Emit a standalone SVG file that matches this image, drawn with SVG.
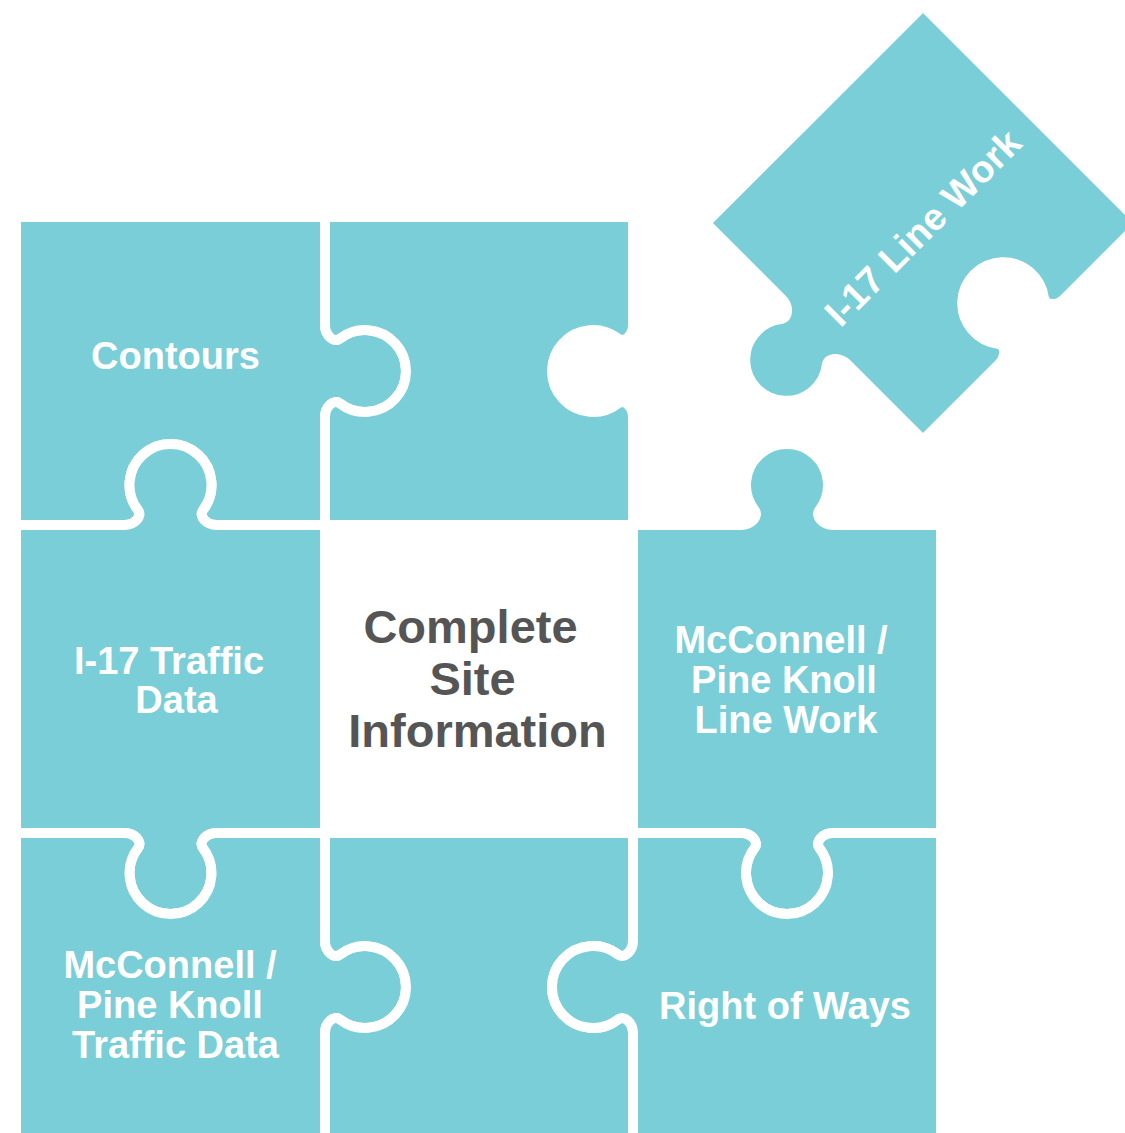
<svg xmlns="http://www.w3.org/2000/svg" width="1125" height="1133" viewBox="0 0 1125 1133">
  <style>
    .piece { fill: #79CED7; stroke: #ffffff; stroke-width: 10; stroke-linejoin: miter; }
    .lbl { font-family: "Liberation Sans", Arial, sans-serif; font-weight: bold; font-size: 38px; fill: #ffffff; text-anchor: middle; }
    .hub { font-family: "Liberation Sans", Arial, sans-serif; font-weight: bold; font-size: 47px; fill: #555555; text-anchor: middle; }
  </style>

  <rect x="0" y="0" width="1125" height="1133" fill="#ffffff"/>

  <!-- Puzzle grid: nominal cut lines at x = 16, 325, 633, 941 and y = 217, 525, 833, 1140.
       The 10px white stroke opens a gap along every cut. -->

  <g id="contours">
    <path class="piece" d="M16,217 L325,217 L325,325 C325,335 333.7,343.4 340,338.5 A41,41 0 1 1 340,403.5 C333.7,398.6 325,407 325,417 L325,525 L216.5,525 C206.5,525 198.1,516.3 203,510 A41,41 0 1 0 138,510 C142.9,516.3 134.5,525 124.5,525 L16,525 Z"/>
    <text class="lbl" x="175.5" y="369">Contours</text>
  </g>

  <g id="top-middle">
    <path class="piece" d="M325,217 L633,217 L633,325 C633,335 624.3,343.4 618,338.5 A41,41 0 1 0 618,403.5 C624.3,398.6 633,407 633,417 L633,525 L325,525 L325,417 C325,407 333.7,398.6 340,403.5 A41,41 0 1 0 340,338.5 C333.7,343.4 325,335 325,325 Z"/>
  </g>

  <g id="i17-traffic-data">
    <path class="piece" d="M16,525 L124.5,525 C134.5,525 142.9,516.3 138,510 A41,41 0 1 1 203,510 C198.1,516.3 206.5,525 216.5,525 L325,525 L325,833 L216.5,833 C206.5,833 198.1,841.7 203,848 A41,41 0 1 1 138,848 C142.9,841.7 134.5,833 124.5,833 L16,833 Z"/>
    <text class="lbl" x="169" y="674">I-17 Traffic</text>
    <text class="lbl" x="176.5" y="713">Data</text>
  </g>

  <g id="complete-site-information">
    <text class="hub" x="470.5" y="643">Complete</text>
    <text class="hub" x="472.5" y="695">Site</text>
    <text class="hub" x="477.5" y="747">Information</text>
  </g>

  <g id="mcconnell-line-work">
    <path class="piece" d="M633,525 L741,525 C751,525 759.4,516.3 754.5,510 A41,41 0 1 1 819.5,510 C814.6,516.3 823,525 833,525 L941,525 L941,833 L833,833 C823,833 814.6,841.7 819.5,848 A41,41 0 1 1 754.5,848 C759.4,841.7 751,833 741,833 L633,833 Z"/>
    <text class="lbl" x="781" y="653">McConnell /</text>
    <text class="lbl" x="784" y="693">Pine Knoll</text>
    <text class="lbl" x="786" y="733">Line Work</text>
  </g>

  <g id="mcconnell-traffic-data">
    <path class="piece" d="M16,833 L124.5,833 C134.5,833 142.9,841.7 138,848 A41,41 0 1 0 203,848 C198.1,841.7 206.5,833 216.5,833 L325,833 L325,941 C325,951 333.7,959.4 340,954.5 A41,41 0 1 1 340,1019.5 C333.7,1014.6 325,1023 325,1033 L325,1140 L16,1140 Z"/>
    <text class="lbl" x="170" y="978">McConnell /</text>
    <text class="lbl" x="170" y="1018">Pine Knoll</text>
    <text class="lbl" x="175.5" y="1058">Traffic Data</text>
  </g>

  <g id="bottom-middle">
    <path class="piece" d="M325,833 L633,833 L633,941 C633,951 624.3,959.4 618,954.5 A41,41 0 1 0 618,1019.5 C624.3,1014.6 633,1023 633,1033 L633,1140 L325,1140 L325,1033 C325,1023 333.7,1014.6 340,1019.5 A41,41 0 1 0 340,954.5 C333.7,959.4 325,951 325,941 Z"/>
  </g>

  <g id="right-of-ways">
    <path class="piece" d="M633,833 L741,833 C751,833 759.4,841.7 754.5,848 A41,41 0 1 0 819.5,848 C814.6,841.7 823,833 833,833 L941,833 L941,1140 L633,1140 L633,1033 C633,1023 624.3,1014.6 618,1019.5 A41,41 0 1 1 618,954.5 C624.3,959.4 633,951 633,941 Z"/>
    <text class="lbl" x="785" y="1019">Right of Ways</text>
  </g>

  <!-- Loose piece, turned 45 degrees about its centre -->
  <g id="i17-line-work">
    <path class="piece" transform="translate(923,223) rotate(45)" d="M-153.5,-153.5 L153.5,-153.5 L153.5,-46 C153.5,-36 144.8,-27.6 138.5,-32.5 A41,41 0 1 0 138.5,32.5 C144.8,27.6 153.5,36 153.5,46 L153.5,153.5 L46,153.5 C36,153.5 27.6,162.2 32.5,168.5 A41,41 0 1 1 -32.5,168.5 C-27.6,162.2 -36,153.5 -46,153.5 L-153.5,153.5 Z"/>
    <text class="lbl" transform="translate(932,237) rotate(-45)" x="0" y="0">I-17 Line Work</text>
  </g>

  <g id="connectors"/>
</svg>
